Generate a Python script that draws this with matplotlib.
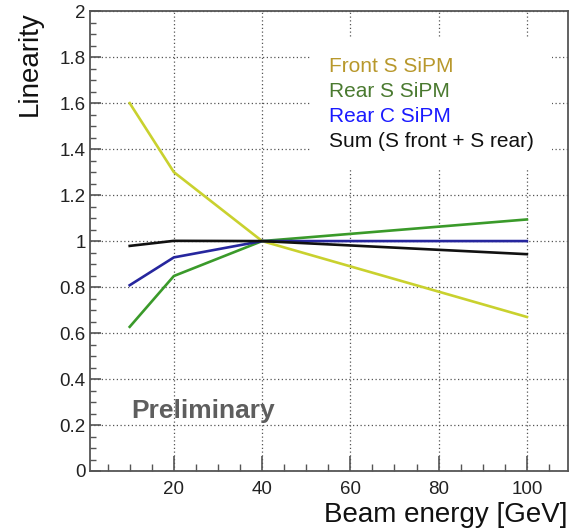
import matplotlib
matplotlib.use('Agg')
import matplotlib.pyplot as plt
from matplotlib.ticker import MultipleLocator, FormatStrFormatter

plt.rcParams['font.family'] = ['Liberation Sans', 'DejaVu Sans']

# beam energies [GeV]
energy = [10, 20, 40, 100]

# linearity per channel
front_s = [1.60, 1.30, 1.00, 0.67]
rear_s = [0.627, 0.848, 1.00, 1.094]
rear_c = [0.808, 0.929, 1.00, 1.00]
sum_s = [0.979, 1.001, 1.00, 0.943]

labels = ['Front S SiPM', 'Rear S SiPM', 'Rear C SiPM', 'Sum (S front + S rear)']
line_colors = ['#c9d12e', '#3a9a2a', '#26269e', '#111111']
text_colors = ['#b8982c', '#4a7a30', '#1a1aff', '#111111']


def main():
    fig = plt.figure(figsize=(5.71, 5.31), dpi=100)
    ax = fig.add_axes([0.1576, 0.113, 0.837, 0.866])

    handles = []
    for y, c, lab in zip([front_s, rear_s, rear_c, sum_s], line_colors, labels):
        h, = ax.plot(energy, y, color=c, lw=1.9, label=lab, zorder=3)
        handles.append(h)

    ax.set_xlim(1, 109.3)
    ax.set_ylim(0, 2)
    ax.xaxis.set_major_locator(MultipleLocator(20))
    ax.xaxis.set_minor_locator(MultipleLocator(5))
    ax.yaxis.set_major_locator(MultipleLocator(0.2))
    ax.yaxis.set_minor_locator(MultipleLocator(0.05))
    ax.yaxis.set_major_formatter(FormatStrFormatter('%g'))

    ax.grid(True, which='major', ls=(0, (1, 2)), color='#555555', lw=0.9, zorder=0)
    ax.set_axisbelow(True)

    for s in ax.spines.values():
        s.set_color('#555555')
        s.set_linewidth(1.3)

    ax.tick_params(axis='both', which='both', direction='in', color='#555555',
                   labelsize=13.5, labelcolor='#222222')
    ax.tick_params(axis='x', which='major', length=11, width=1.2, pad=7)
    ax.tick_params(axis='x', which='minor', length=5, width=1.0)
    ax.tick_params(axis='y', which='major', length=8, width=1.2, pad=3)
    ax.tick_params(axis='y', which='minor', length=4.5, width=1.0)

    ax.set_xlabel('Beam energy [GeV]', fontsize=20, loc='right', labelpad=3,
                  color='#111111')
    ax.set_ylabel('Linearity', fontsize=20, loc='top', labelpad=12,
                  color='#111111')

    leg = ax.legend(handles=handles, loc='upper left',
                    bbox_to_anchor=(0.46, 0.941), borderaxespad=0,
                    handlelength=0, handletextpad=0, fontsize=15,
                    labelcolor=text_colors, frameon=True, fancybox=False,
                    borderpad=0.9, labelspacing=0.29)
    leg.get_frame().set_facecolor('white')
    leg.get_frame().set_edgecolor('none')
    leg.get_frame().set_alpha(1)
    for h in leg.legend_handles:
        h.set_visible(False)

    ax.text(10.3, 0.26, 'Preliminary', fontsize=19, fontweight='bold',
            color='#5e5e5e', va='center', ha='left', zorder=4)

    fig.savefig('out.png', dpi=100)


if __name__ == '__main__':
    main()
